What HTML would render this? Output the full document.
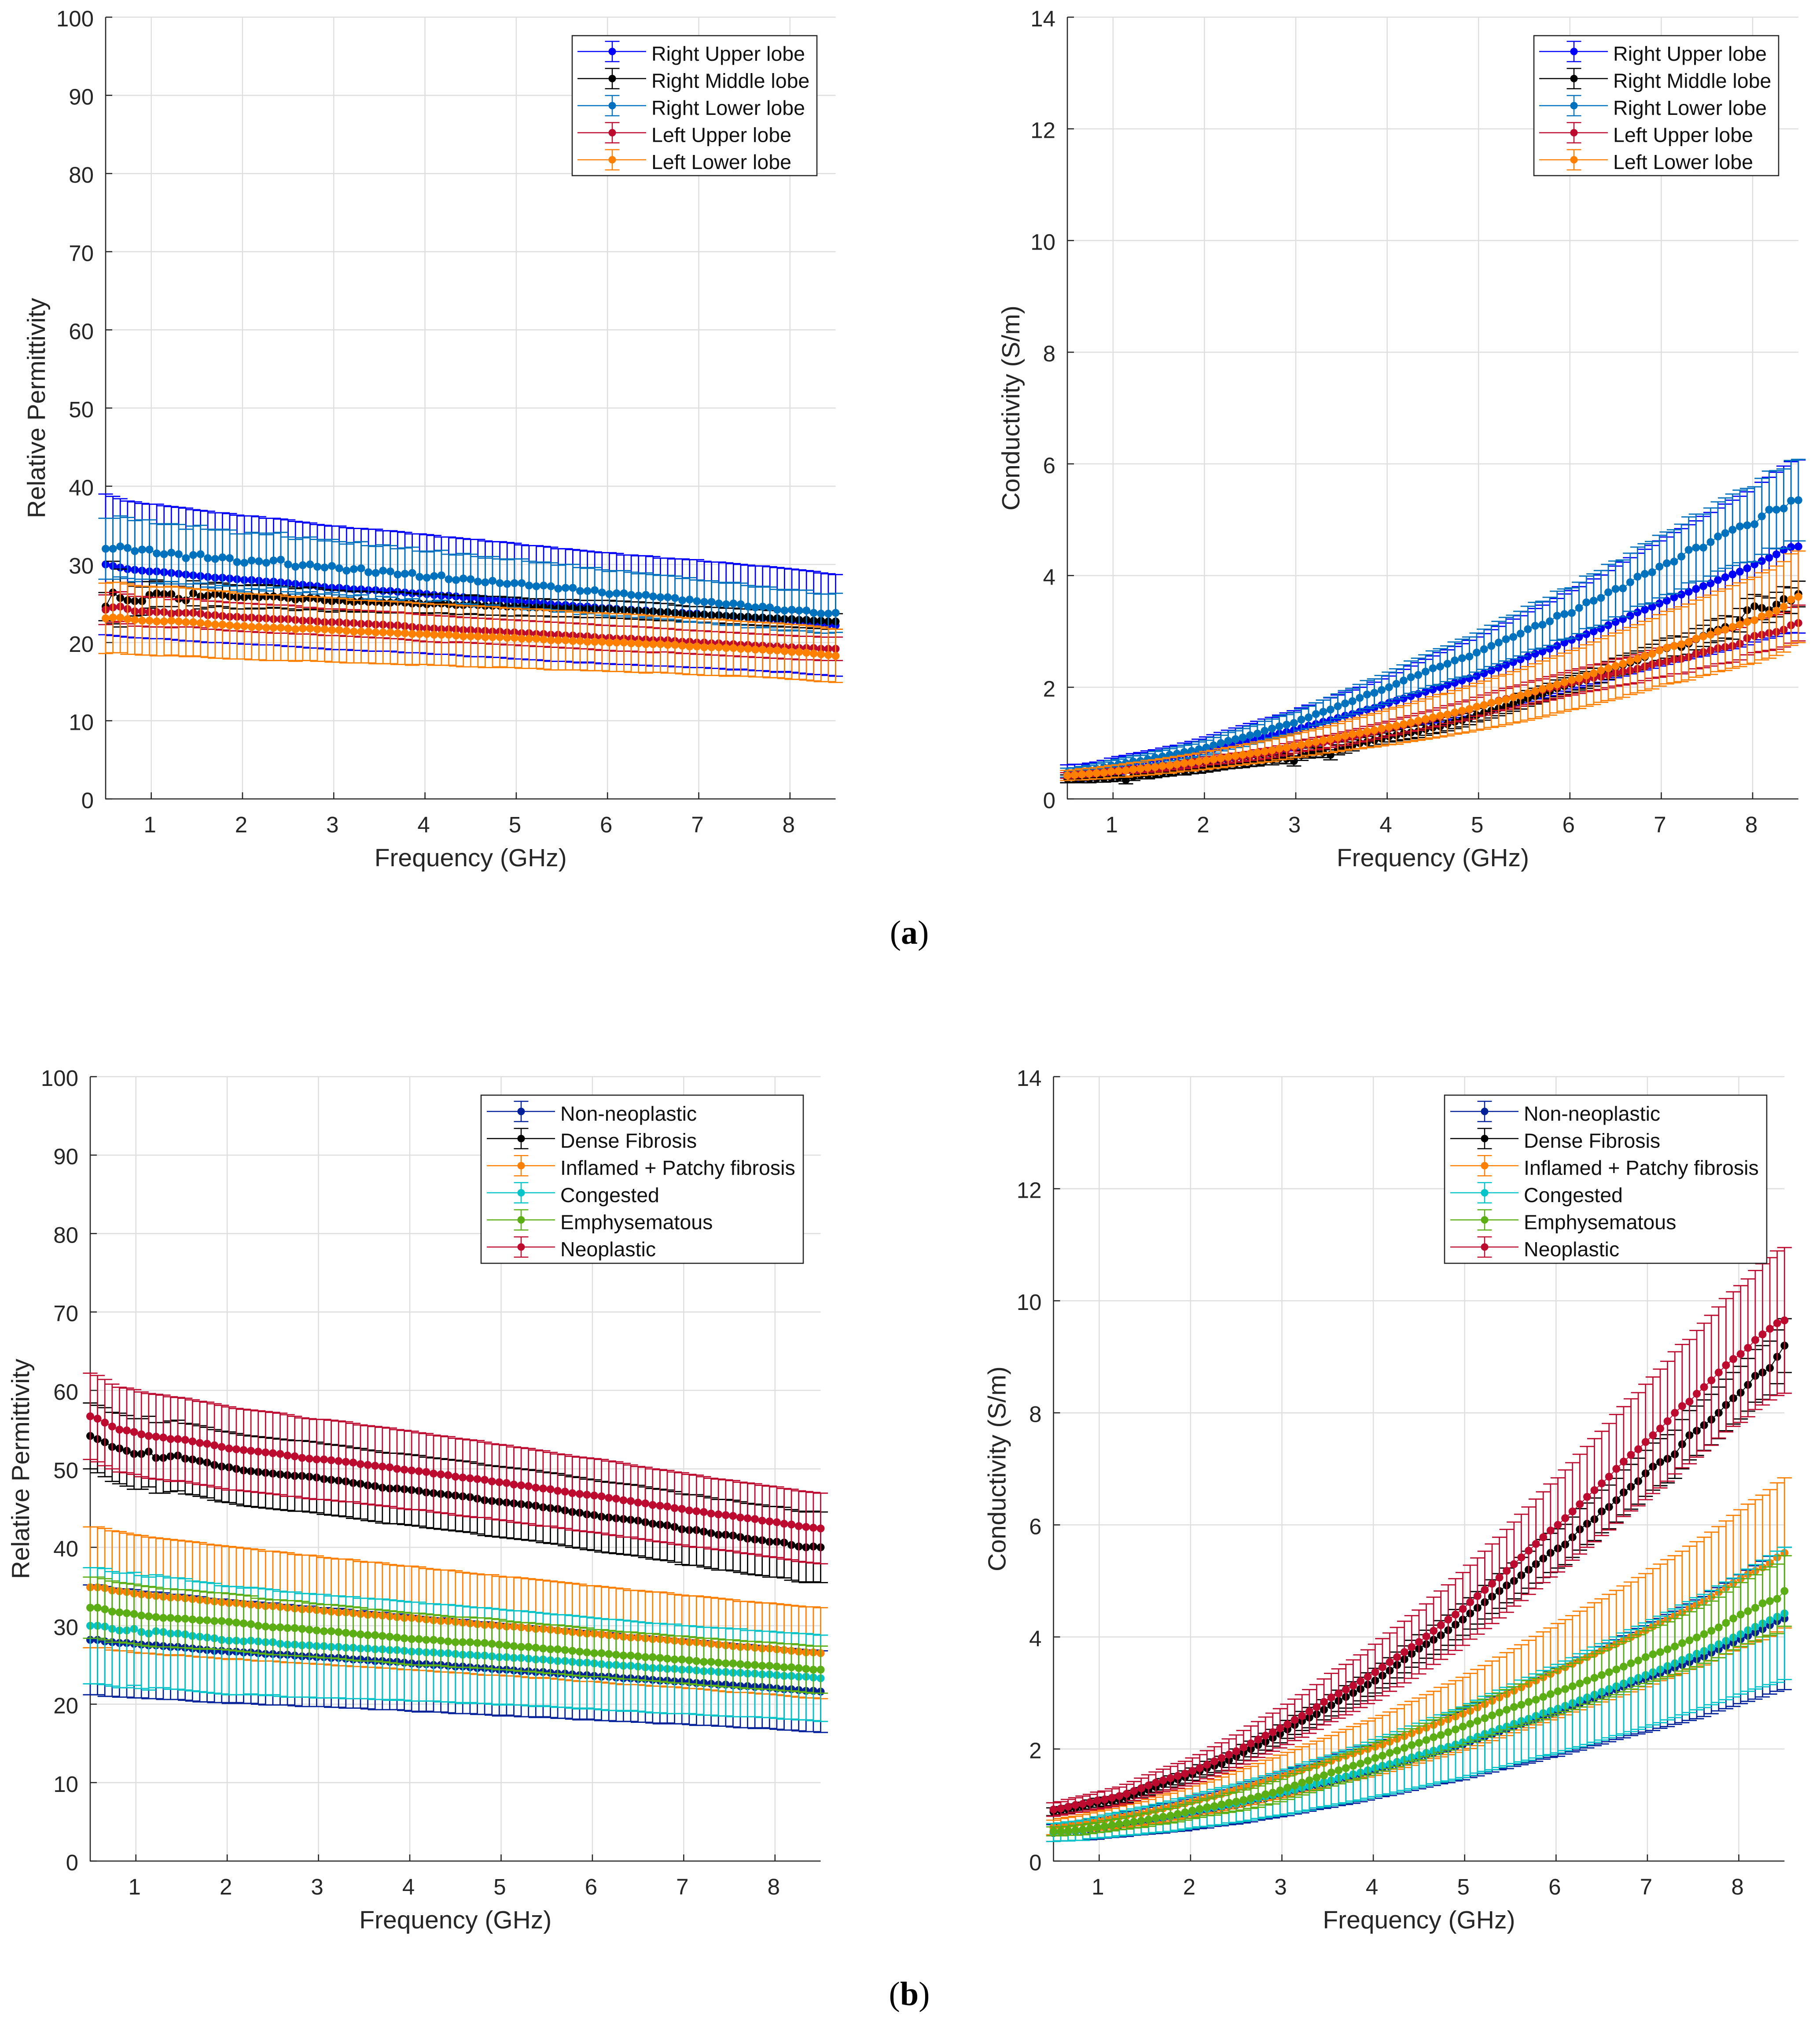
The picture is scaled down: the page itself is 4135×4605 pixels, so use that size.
<!DOCTYPE html>
<html lang="en">
<head>
<meta charset="utf-8">
<title>Dielectric properties of lung tissue</title>
<style>
html,body{margin:0;padding:0;background:#fff;}
body{width:4135px;height:4605px;overflow:hidden;}
svg{display:block;font-family:"Liberation Sans",Arial,sans-serif;}
.cap{font-family:"Liberation Serif",serif;font-size:76px;fill:#000;}
</style>
</head>
<body>
<svg id="figure" width="4135" height="4605" viewBox="0 0 4135 4605">
<rect width="4135" height="4605" fill="#fff"/>
<g id="plots"></g>
<text class="cap" x="2066" y="2144" text-anchor="middle">(<tspan font-weight="bold">a</tspan>)</text>
<text class="cap" x="2066" y="4555" text-anchor="middle">(<tspan font-weight="bold">b</tspan>)</text>
</svg>
<script>
const frequencies=[0.50,0.58,0.66,0.74,0.82,0.90,0.98,1.06,1.14,1.22,1.30,1.38,1.46,1.54,1.62,1.70,1.78,1.86,1.94,2.02,2.10,2.18,2.26,2.34,2.42,2.50,2.58,2.66,2.74,2.82,2.90,2.98,3.06,3.14,3.22,3.30,3.38,3.46,3.54,3.62,3.70,3.78,3.86,3.94,4.02,4.10,4.18,4.26,4.34,4.42,4.50,4.58,4.66,4.74,4.82,4.90,4.98,5.06,5.14,5.22,5.30,5.38,5.46,5.54,5.62,5.70,5.78,5.86,5.94,6.02,6.10,6.18,6.26,6.34,6.42,6.50,6.58,6.66,6.74,6.82,6.90,6.98,7.06,7.14,7.22,7.30,7.38,7.46,7.54,7.62,7.70,7.78,7.86,7.94,8.02,8.10,8.18,8.26,8.34,8.42,8.50];
const xTickLabels=[1,2,3,4,5,6,7,8];
const permittivityTicks=[0,10,20,30,40,50,60,70,80,90,100];
const conductivityTicks=[0,2,4,6,8,10,12,14];
const lobeLabels=["Right Upper lobe","Right Middle lobe","Right Lower lobe","Left Upper lobe","Left Lower lobe"];
const tissueLabels=["Non-neoplastic","Dense Fibrosis","Inflamed + Patchy fibrosis","Congested","Emphysematous","Neoplastic"];

/* (a) permittivity, lobes */
const rulPermMean=[30.0,29.8,29.6,29.4,29.3,29.2,29.1,29.1,29.0,28.9,
28.8,28.7,28.6,28.5,28.4,28.3,28.3,28.2,28.1,28.0,
28.0,27.9,27.8,27.8,27.7,27.6,27.5,27.4,27.3,27.2,
27.1,27.0,27.0,26.9,26.8,26.8,26.7,26.7,26.6,26.6,
26.5,26.4,26.3,26.3,26.2,26.1,26.0,26.0,25.9,25.8,
25.7,25.7,25.6,25.5,25.5,25.4,25.3,25.2,25.1,25.1,
25.0,24.9,24.8,24.8,24.7,24.6,24.6,24.5,24.4,24.4,
24.3,24.2,24.2,24.1,24.1,24.0,23.9,23.9,23.8,23.8,
23.7,23.7,23.6,23.5,23.5,23.4,23.3,23.3,23.2,23.1,
23.1,23.0,22.9,22.9,22.8,22.7,22.6,22.5,22.4,22.3,22.2];
const rulPermErr=[9.0,8.9,8.8,8.7,8.7,8.6,8.6,8.6,8.5,8.5,
8.5,8.5,8.4,8.4,8.4,8.3,8.3,8.3,8.2,8.2,
8.2,8.2,8.1,8.1,8.1,8.1,8.0,8.0,8.0,7.9,
7.9,7.9,7.9,7.8,7.8,7.8,7.8,7.8,7.7,7.7,
7.7,7.7,7.6,7.6,7.6,7.6,7.5,7.5,7.5,7.5,
7.5,7.5,7.4,7.4,7.4,7.4,7.4,7.3,7.3,7.3,
7.3,7.3,7.2,7.2,7.2,7.2,7.1,7.1,7.1,7.1,
7.1,7.0,7.0,7.0,7.0,7.0,6.9,6.9,6.9,6.9,
6.9,6.9,6.8,6.8,6.8,6.8,6.8,6.7,6.7,6.7,
6.7,6.7,6.7,6.6,6.6,6.6,6.6,6.6,6.5,6.5,6.5];
const rmlPermMean=[24.6,26.4,25.7,25.4,25.3,25.3,26.1,26.3,26.2,26.2,
25.6,25.4,26.3,25.9,26.0,26.2,26.1,25.9,25.8,25.8,
25.9,25.8,25.9,25.9,25.8,25.7,25.5,25.6,25.7,25.6,
25.4,25.3,25.4,25.3,25.2,25.3,25.2,25.2,25.1,25.1,
25.2,25.1,25.0,25.0,24.9,25.0,25.0,24.9,24.8,24.8,
24.9,24.8,24.7,24.7,24.7,24.6,24.6,24.6,24.5,24.5,
24.5,24.4,24.4,24.4,24.4,24.3,24.3,24.3,24.3,24.3,
24.2,24.2,24.1,24.1,24.0,24.0,23.9,23.9,23.8,23.7,
23.6,23.6,23.6,23.5,23.5,23.4,23.4,23.3,23.3,23.2,
23.2,23.1,23.1,23.0,23.0,22.9,22.9,22.8,22.8,22.7,22.7];
const rmlPermErr=[1.8,4.0,3.7,2.3,1.9,1.8,1.7,1.7,1.6,1.6,
1.6,1.6,1.6,1.6,1.5,1.5,1.5,1.5,1.5,1.5,
1.5,1.5,1.5,1.4,1.4,1.4,1.4,1.4,1.4,1.4,
1.4,1.4,1.3,1.3,1.3,1.3,1.3,1.3,1.3,1.3,
1.3,1.3,1.3,1.2,1.2,1.2,1.2,1.2,1.2,1.2,
1.2,1.2,1.2,1.2,1.2,1.2,1.2,1.1,1.1,1.1,
1.1,1.1,1.1,1.1,1.1,1.1,1.1,1.1,1.1,1.1,
1.1,1.1,1.1,1.1,1.1,1.1,1.1,1.1,1.0,1.0,
1.0,1.0,1.0,1.0,1.0,1.0,1.0,1.0,1.0,1.0,
1.0,1.0,1.0,1.0,1.0,1.0,1.0,1.0,1.0,1.0,1.0];
const rllPermMean=[32.0,32.0,32.3,32.1,31.7,31.9,31.9,31.4,31.3,31.5,
31.3,30.8,31.2,31.3,30.8,30.7,30.9,30.8,30.3,30.2,
30.5,30.4,30.2,30.5,30.6,30.0,29.7,29.9,30.0,29.7,
29.6,29.8,29.5,29.2,29.4,29.5,29.0,28.9,29.2,29.1,
28.7,28.8,28.9,28.4,28.3,28.5,28.6,28.1,28.0,28.2,
28.1,27.8,27.7,27.9,27.6,27.5,27.6,27.6,27.3,27.2,
27.3,27.2,26.9,27.0,27.0,26.6,26.6,26.7,26.4,26.2,
26.3,26.3,26.1,26.0,26.1,25.9,25.8,25.8,25.7,25.4,
25.5,25.3,25.2,25.2,25.0,24.9,25.0,24.9,24.6,24.5,
24.6,24.5,24.2,24.1,24.2,24.1,24.1,23.8,23.7,23.7,23.8];
const rllPermErr=[3.9,3.9,3.9,3.9,3.9,3.8,3.8,3.8,3.8,3.7,
3.8,3.7,3.7,3.7,3.7,3.7,3.6,3.6,3.6,3.7,
3.6,3.6,3.6,3.5,3.5,3.5,3.5,3.5,3.5,3.5,
3.4,3.4,3.4,3.4,3.4,3.4,3.4,3.4,3.3,3.3,
3.3,3.3,3.3,3.3,3.3,3.2,3.2,3.2,3.2,3.2,
3.2,3.2,3.1,3.1,3.1,3.1,3.1,3.1,3.1,3.0,
3.0,3.0,3.0,3.0,3.0,3.0,2.9,2.9,2.9,2.9,
2.9,2.9,2.9,2.8,2.8,2.8,2.8,2.8,2.8,2.8,
2.8,2.7,2.7,2.7,2.7,2.7,2.7,2.7,2.7,2.6,
2.6,2.6,2.6,2.6,2.6,2.6,2.6,2.5,2.5,2.5,2.5];
const lulPermMean=[24.2,24.5,24.6,24.3,24.0,24.0,23.9,23.9,23.9,23.7,
23.8,23.8,23.8,23.7,23.5,23.5,23.4,23.3,23.3,23.2,
23.2,23.1,23.1,23.0,23.0,23.0,22.9,22.8,22.8,22.7,
22.6,22.6,22.6,22.5,22.5,22.4,22.4,22.3,22.3,22.2,
22.2,22.1,22.0,21.9,21.8,21.8,21.7,21.7,21.7,21.6,
21.6,21.5,21.5,21.4,21.4,21.3,21.3,21.2,21.2,21.1,
21.1,21.0,21.0,20.9,20.9,20.8,20.8,20.7,20.6,20.6,
20.5,20.5,20.5,20.4,20.4,20.3,20.3,20.3,20.2,20.1,
20.1,20.0,20.0,19.9,19.9,19.8,19.8,19.7,19.7,19.6,
19.6,19.5,19.5,19.4,19.4,19.3,19.3,19.3,19.2,19.2,19.2];
const lulPermErr=[1.9,1.9,1.9,1.9,1.9,1.9,1.9,1.9,1.9,1.8,
1.8,1.8,1.8,1.8,1.8,1.8,1.8,1.8,1.8,1.8,
1.8,1.8,1.8,1.8,1.8,1.8,1.8,1.7,1.7,1.7,
1.7,1.7,1.7,1.7,1.7,1.7,1.7,1.7,1.7,1.7,
1.7,1.7,1.7,1.7,1.7,1.7,1.7,1.7,1.6,1.6,
1.6,1.6,1.6,1.6,1.6,1.6,1.6,1.6,1.6,1.6,
1.6,1.6,1.6,1.6,1.6,1.6,1.6,1.6,1.6,1.6,
1.6,1.6,1.6,1.6,1.6,1.6,1.5,1.5,1.5,1.5,
1.5,1.5,1.5,1.5,1.5,1.5,1.5,1.5,1.5,1.5,
1.5,1.5,1.5,1.5,1.5,1.5,1.5,1.5,1.5,1.5,1.5];
const lllPermMean=[23.1,23.2,23.2,23.0,22.9,22.8,22.8,22.7,22.7,22.8,
22.7,22.6,22.6,22.5,22.4,22.3,22.3,22.2,22.1,22.1,
22.0,22.0,21.9,21.9,21.9,21.8,21.7,21.8,21.8,21.7,
21.7,21.6,21.6,21.5,21.4,21.4,21.4,21.3,21.3,21.3,
21.2,21.2,21.1,21.1,21.1,21.0,21.0,21.0,20.9,20.8,
20.8,20.8,20.7,20.7,20.7,20.6,20.6,20.5,20.5,20.5,
20.4,20.3,20.3,20.3,20.2,20.2,20.1,20.1,20.1,20.0,
20.0,20.0,19.9,19.9,19.8,19.8,19.8,19.7,19.7,19.6,
19.5,19.5,19.4,19.4,19.4,19.3,19.3,19.2,19.2,19.1,
19.1,19.0,19.0,18.9,18.8,18.8,18.7,18.6,18.5,18.4,18.3];
const lllPermErr=[4.5,4.5,4.5,4.5,4.4,4.4,4.4,4.4,4.4,4.4,
4.4,4.4,4.3,4.3,4.3,4.3,4.3,4.3,4.2,4.2,
4.2,4.2,4.2,4.2,4.2,4.1,4.1,4.1,4.1,4.1,
4.1,4.1,4.1,4.1,4.0,4.0,4.0,4.0,4.0,4.0,
4.0,4.0,4.0,3.9,3.9,3.9,3.9,3.9,3.9,3.9,
3.9,3.9,3.9,3.9,3.8,3.8,3.8,3.8,3.8,3.8,
3.8,3.8,3.8,3.8,3.7,3.7,3.7,3.7,3.7,3.7,
3.7,3.7,3.7,3.7,3.7,3.6,3.6,3.6,3.6,3.6,
3.6,3.6,3.6,3.6,3.6,3.6,3.5,3.5,3.5,3.5,
3.5,3.5,3.5,3.5,3.5,3.5,3.5,3.5,3.5,3.4,3.4];

/* (a) conductivity, lobes */
const rulCondMean=[.45,.46,.47,.49,.51,.54,.58,.60,.62,.64,
.66,.68,.70,.72,.74,.76,.79,.81,.84,.87,
.90,.93,.96,.99,1.02,1.05,1.08,1.11,1.14,1.17,
1.20,1.23,1.27,1.31,1.34,1.38,1.41,1.45,1.49,1.52,
1.56,1.60,1.63,1.68,1.72,1.76,1.80,1.84,1.88,1.92,
1.96,2.00,2.04,2.08,2.12,2.16,2.20,2.25,2.30,2.35,
2.40,2.45,2.50,2.55,2.60,2.64,2.69,2.74,2.80,2.85,
2.90,2.95,3.00,3.05,3.11,3.17,3.22,3.28,3.34,3.39,
3.44,3.50,3.55,3.61,3.66,3.71,3.76,3.81,3.86,3.92,
3.97,4.02,4.07,4.13,4.20,4.26,4.32,4.38,4.46,4.51,4.52];
const rulCondErr=[.16,.16,.15,.15,.15,.15,.15,.16,.16,.17,
.17,.18,.18,.19,.20,.20,.21,.22,.23,.24,
.25,.26,.27,.28,.29,.30,.31,.32,.32,.33,
.34,.35,.36,.37,.38,.39,.40,.41,.42,.43,
.44,.45,.46,.47,.48,.50,.52,.54,.56,.58,
.60,.62,.63,.65,.66,.68,.70,.71,.73,.74,
.75,.77,.78,.80,.81,.83,.84,.85,.87,.88,
.90,.92,.94,.96,.98,1.00,1.02,1.04,1.06,1.08,
1.10,1.12,1.14,1.16,1.18,1.20,1.22,1.25,1.27,1.29,
1.31,1.33,1.35,1.37,1.39,1.41,1.44,1.47,1.50,1.53,1.55];
const rmlCondMean=[.36,.37,.36,.36,.37,.37,.38,.39,.34,.40,
.43,.43,.45,.47,.48,.50,.50,.53,.54,.56,
.58,.60,.62,.63,.64,.66,.67,.69,.70,.73,
.72,.68,.78,.82,.84,.83,.79,.88,.92,.96,
1.00,1.02,1.05,1.08,1.12,1.14,1.17,1.19,1.21,1.25,
1.28,1.30,1.34,1.38,1.41,1.45,1.50,1.54,1.58,1.62,
1.66,1.70,1.75,1.80,1.84,1.88,1.93,1.98,2.02,2.06,
2.10,2.13,2.18,2.24,2.30,2.36,2.40,2.44,2.48,2.54,
2.60,2.66,2.70,2.74,2.72,2.78,2.86,2.92,3.00,3.03,
3.08,3.06,3.20,3.38,3.45,3.42,3.38,3.48,3.58,3.55,3.67];
const rmlCondErr=[.07,.07,.07,.07,.07,.07,.07,.07,.07,.07,
.07,.07,.07,.07,.07,.07,.07,.08,.08,.08,
.08,.08,.08,.08,.08,.08,.08,.08,.09,.09,
.09,.09,.09,.09,.09,.09,.09,.09,.10,.10,
.10,.10,.10,.10,.10,.10,.11,.11,.11,.11,
.11,.11,.12,.12,.12,.12,.12,.13,.13,.13,
.13,.13,.14,.14,.14,.14,.14,.15,.15,.15,
.15,.15,.16,.16,.16,.16,.17,.17,.17,.17,
.17,.18,.18,.18,.18,.19,.19,.19,.20,.20,
.20,.20,.21,.21,.21,.21,.22,.22,.22,.23,.23];
const rllCondMean=[.47,.48,.50,.52,.54,.57,.60,.62,.64,.67,
.68,.71,.74,.76,.79,.81,.84,.86,.89,.92,
.96,1.00,1.04,1.07,1.10,1.14,1.17,1.22,1.26,1.30,
1.33,1.36,1.42,1.46,1.52,1.56,1.60,1.66,1.71,1.75,
1.81,1.87,1.90,1.95,2.00,2.06,2.12,2.18,2.22,2.28,
2.34,2.37,2.42,2.48,2.52,2.55,2.62,2.68,2.74,2.80,
2.86,2.90,2.96,3.04,3.10,3.12,3.18,3.28,3.31,3.33,
3.42,3.52,3.55,3.60,3.70,3.76,3.77,3.88,3.98,4.03,
4.06,4.16,4.22,4.25,4.34,4.46,4.50,4.50,4.60,4.70,
4.76,4.82,4.88,4.90,4.92,5.06,5.18,5.18,5.20,5.34,5.35];
const rllCondErr=[.08,.08,.08,.08,.09,.09,.09,.09,.10,.10,
.10,.10,.11,.11,.11,.12,.12,.12,.13,.13,
.14,.14,.15,.15,.16,.16,.16,.17,.17,.18,
.18,.19,.19,.20,.20,.21,.22,.22,.23,.23,
.24,.25,.25,.26,.27,.27,.28,.29,.30,.30,
.31,.32,.32,.33,.34,.35,.35,.36,.37,.38,
.39,.39,.40,.41,.42,.42,.43,.44,.45,.45,
.46,.47,.48,.49,.50,.50,.51,.52,.53,.54,
.55,.56,.56,.57,.58,.59,.60,.60,.61,.62,
.63,.64,.65,.66,.67,.68,.69,.70,.71,.72,.73];
const lulCondMean=[.42,.43,.44,.45,.46,.47,.49,.50,.51,.52,
.53,.54,.55,.56,.58,.59,.61,.63,.65,.68,
.69,.71,.72,.74,.75,.77,.79,.81,.83,.86,
.89,.92,.95,.97,.99,1.01,1.03,1.06,1.08,1.11,
1.14,1.17,1.20,1.23,1.26,1.29,1.32,1.35,1.38,1.41,
1.44,1.47,1.51,1.54,1.57,1.60,1.65,1.68,1.72,1.76,
1.79,1.82,1.85,1.89,1.92,1.95,1.98,2.01,2.05,2.08,
2.11,2.14,2.17,2.19,2.22,2.26,2.28,2.30,2.33,2.37,
2.41,2.44,2.46,2.50,2.51,2.54,2.60,2.63,2.66,2.70,
2.72,2.74,2.78,2.88,2.92,2.94,2.97,2.99,3.03,3.11,3.15];
const lulCondErr=[.05,.05,.05,.05,.05,.05,.05,.05,.05,.06,
.06,.06,.06,.06,.06,.06,.07,.07,.07,.07,
.07,.08,.08,.08,.08,.08,.09,.09,.09,.09,
.10,.10,.10,.10,.11,.11,.11,.11,.12,.12,
.12,.13,.13,.13,.13,.14,.14,.14,.15,.15,
.15,.16,.16,.16,.17,.17,.17,.18,.18,.18,
.19,.19,.19,.20,.20,.20,.21,.21,.21,.22,
.22,.22,.23,.23,.23,.24,.24,.24,.25,.25,
.25,.26,.26,.26,.27,.27,.27,.28,.28,.28,
.29,.29,.29,.30,.30,.30,.31,.31,.31,.32,.32];
const lllCondMean=[.42,.43,.44,.45,.46,.47,.49,.50,.51,.53,
.54,.56,.57,.59,.60,.62,.64,.65,.67,.69,
.71,.73,.75,.77,.79,.81,.83,.85,.87,.90,
.92,.95,.97,1.00,1.02,1.05,1.07,1.10,1.13,1.16,
1.18,1.21,1.23,1.26,1.29,1.31,1.34,1.37,1.40,1.43,
1.46,1.49,1.51,1.55,1.58,1.61,1.65,1.68,1.72,1.75,
1.78,1.82,1.85,1.89,1.93,1.97,2.01,2.05,2.09,2.13,
2.16,2.21,2.25,2.30,2.34,2.38,2.42,2.47,2.51,2.56,
2.60,2.66,2.71,2.74,2.77,2.81,2.87,2.91,2.94,3.00,
3.03,3.08,3.12,3.17,3.20,3.27,3.31,3.37,3.44,3.57,3.62];
const lllCondErr=[.09,.09,.10,.10,.10,.11,.11,.11,.12,.12,
.12,.13,.13,.13,.14,.14,.14,.15,.15,.16,
.16,.17,.17,.17,.18,.18,.19,.19,.20,.20,
.21,.21,.22,.22,.23,.23,.24,.25,.26,.27,
.28,.29,.30,.31,.32,.33,.33,.34,.35,.36,
.37,.38,.38,.39,.40,.41,.42,.43,.44,.45,
.45,.46,.47,.48,.49,.50,.51,.51,.52,.53,
.54,.55,.56,.57,.58,.59,.60,.60,.61,.62,
.63,.64,.65,.66,.67,.68,.69,.70,.71,.72,
.73,.74,.75,.76,.77,.78,.79,.80,.81,.82,.82];

/* (b) permittivity, tissue */
const nonPermMean=[28.2,28.2,28.0,27.9,27.8,27.8,27.7,27.6,27.5,27.5,
27.4,27.3,27.3,27.2,27.1,27.0,26.9,26.8,26.8,26.7,
26.7,26.6,26.6,26.5,26.4,26.4,26.3,26.3,26.2,26.1,
26.1,26.0,26.0,25.9,25.9,25.8,25.7,25.7,25.6,25.5,
25.5,25.4,25.4,25.3,25.2,25.1,25.1,25.0,25.0,24.9,
24.8,24.8,24.7,24.6,24.6,24.5,24.4,24.4,24.3,24.2,
24.2,24.1,24.1,24.0,23.9,23.9,23.8,23.7,23.7,23.6,
23.5,23.5,23.4,23.3,23.3,23.2,23.2,23.1,23.0,23.0,
22.9,22.9,22.8,22.7,22.7,22.6,22.5,22.5,22.4,22.3,
22.3,22.2,22.2,22.1,22.0,21.9,21.9,21.8,21.7,21.7,21.6];
const nonPermErr=[7.0,7.0,7.0,6.9,6.9,6.9,6.9,6.8,6.8,6.8,
6.8,6.7,6.7,6.7,6.7,6.7,6.6,6.6,6.6,6.6,
6.5,6.5,6.5,6.5,6.5,6.5,6.4,6.4,6.4,6.4,
6.4,6.3,6.3,6.3,6.3,6.3,6.2,6.2,6.2,6.2,
6.2,6.1,6.1,6.1,6.1,6.1,6.0,6.0,6.0,6.0,
6.0,6.0,5.9,5.9,5.9,5.9,5.9,5.8,5.8,5.8,
5.8,5.8,5.7,5.7,5.7,5.7,5.7,5.7,5.6,5.6,
5.6,5.6,5.6,5.5,5.5,5.5,5.5,5.5,5.5,5.4,
5.4,5.4,5.4,5.4,5.4,5.3,5.3,5.3,5.3,5.3,
5.3,5.3,5.2,5.2,5.2,5.2,5.2,5.2,5.2,5.2,5.2];
const densePermMean=[54.2,53.8,53.4,52.8,52.6,52.3,51.9,51.9,52.2,51.4,
51.4,51.6,51.7,51.3,51.2,51.0,50.8,50.5,50.3,50.2,
50.0,49.8,49.7,49.6,49.5,49.4,49.3,49.2,49.1,49.1,
49.0,48.9,48.7,48.6,48.5,48.4,48.2,48.1,47.9,47.8,
47.6,47.5,47.5,47.4,47.3,47.2,47.0,46.9,46.8,46.7,
46.6,46.5,46.4,46.2,46.0,45.9,45.8,45.7,45.6,45.5,
45.4,45.3,45.1,45.0,44.9,44.7,44.5,44.4,44.2,44.1,
43.9,43.8,43.7,43.6,43.5,43.4,43.2,43.0,42.9,42.8,
42.6,42.3,42.2,42.2,42.0,41.8,41.6,41.6,41.5,41.3,
41.1,41.0,40.9,40.7,40.7,40.6,40.3,40.1,40.0,40.1,40.0];
const densePermErr=[4.2,4.3,4.4,4.4,4.5,4.5,4.5,4.5,4.5,4.5,
4.5,4.5,4.5,4.5,4.5,4.5,4.5,4.5,4.5,4.5,
4.5,4.5,4.5,4.5,4.5,4.5,4.5,4.5,4.5,4.5,
4.5,4.5,4.5,4.5,4.5,4.5,4.5,4.5,4.5,4.5,
4.5,4.5,4.5,4.5,4.5,4.5,4.5,4.5,4.5,4.5,
4.5,4.5,4.5,4.5,4.5,4.5,4.5,4.5,4.5,4.5,
4.5,4.5,4.5,4.5,4.5,4.5,4.5,4.5,4.5,4.5,
4.5,4.5,4.5,4.5,4.5,4.5,4.5,4.5,4.5,4.5,
4.5,4.5,4.5,4.5,4.5,4.5,4.5,4.5,4.5,4.5,
4.5,4.5,4.5,4.5,4.5,4.5,4.5,4.5,4.5,4.5,4.5];
const inflPermMean=[34.9,34.9,34.8,34.5,34.4,34.3,34.1,34.0,33.9,33.8,
33.7,33.6,33.6,33.5,33.4,33.3,33.2,33.1,33.0,32.9,
32.9,32.8,32.7,32.6,32.5,32.5,32.4,32.3,32.2,32.1,
32.1,32.0,31.9,31.8,31.7,31.7,31.6,31.5,31.4,31.4,
31.3,31.2,31.1,31.0,31.0,30.9,30.8,30.7,30.6,30.6,
30.5,30.4,30.3,30.2,30.1,30.1,30.0,29.9,29.9,29.8,
29.7,29.6,29.6,29.5,29.4,29.3,29.2,29.1,29.0,29.0,
28.9,28.8,28.7,28.6,28.5,28.5,28.4,28.3,28.3,28.2,
28.1,28.0,27.9,27.9,27.8,27.7,27.6,27.5,27.4,27.3,
27.3,27.2,27.1,27.1,27.0,26.9,26.8,26.7,26.6,26.6,26.5];
const inflPermErr=[7.7,7.7,7.6,7.6,7.6,7.5,7.5,7.5,7.4,7.4,
7.4,7.4,7.3,7.3,7.3,7.3,7.2,7.2,7.2,7.2,
7.1,7.1,7.1,7.1,7.0,7.0,7.0,7.0,6.9,6.9,
6.9,6.9,6.8,6.8,6.8,6.8,6.8,6.7,6.7,6.7,
6.7,6.6,6.6,6.6,6.6,6.6,6.5,6.5,6.5,6.5,
6.5,6.4,6.4,6.4,6.4,6.4,6.3,6.3,6.3,6.3,
6.3,6.3,6.2,6.2,6.2,6.2,6.2,6.2,6.1,6.1,
6.1,6.1,6.1,6.1,6.0,6.0,6.0,6.0,6.0,6.0,
5.9,5.9,5.9,5.9,5.9,5.9,5.9,5.9,5.9,5.8,
5.8,5.8,5.8,5.8,5.8,5.8,5.8,5.8,5.8,5.8,5.8];
const congPermMean=[30.0,30.0,29.9,29.6,29.4,29.4,29.6,29.2,29.0,29.3,
29.2,29.0,29.0,28.9,28.7,28.6,28.5,28.4,28.2,28.1,
28.1,28.0,28.1,28.0,27.9,27.9,27.7,27.6,27.6,27.5,
27.5,27.4,27.4,27.3,27.3,27.2,27.2,27.1,27.1,27.0,
27.0,26.9,26.9,26.8,26.7,26.7,26.6,26.6,26.5,26.5,
26.4,26.3,26.3,26.2,26.2,26.1,26.0,26.0,25.9,25.9,
25.8,25.7,25.7,25.6,25.5,25.5,25.4,25.3,25.3,25.2,
25.1,25.0,25.0,24.9,24.9,24.8,24.7,24.6,24.6,24.5,
24.5,24.4,24.4,24.3,24.2,24.2,24.1,24.1,24.0,24.0,
23.9,23.9,23.8,23.8,23.7,23.6,23.6,23.5,23.5,23.4,23.3];
const congPermErr=[7.4,7.4,7.4,7.3,7.3,7.3,7.2,7.2,7.2,7.2,
7.1,7.1,7.1,7.1,7.0,7.0,7.0,7.0,6.9,6.9,
6.9,6.8,6.8,6.8,6.8,6.7,6.7,6.7,6.7,6.6,
6.6,6.6,6.6,6.5,6.5,6.5,6.5,6.4,6.4,6.4,
6.4,6.4,6.3,6.3,6.3,6.3,6.2,6.2,6.2,6.2,
6.2,6.2,6.1,6.1,6.1,6.1,6.1,6.0,6.0,6.0,
6.0,6.0,5.9,5.9,5.9,5.9,5.9,5.9,5.8,5.8,
5.8,5.8,5.8,5.8,5.7,5.7,5.7,5.7,5.7,5.7,
5.7,5.6,5.6,5.6,5.6,5.6,5.6,5.6,5.6,5.6,
5.5,5.5,5.5,5.5,5.5,5.5,5.5,5.5,5.5,5.5,5.5];
const emphPermMean=[32.3,32.3,32.1,31.8,31.7,31.6,31.5,31.3,31.2,31.1,
31.0,31.0,30.9,30.9,30.8,30.7,30.7,30.6,30.6,30.5,
30.4,30.3,30.2,30.0,29.9,29.8,29.8,29.7,29.7,29.6,
29.5,29.4,29.3,29.3,29.2,29.1,29.0,28.9,28.8,28.8,
28.7,28.6,28.5,28.4,28.3,28.3,28.2,28.2,28.1,28.0,
27.9,27.9,27.9,27.8,27.8,27.7,27.6,27.5,27.4,27.3,
27.3,27.2,27.1,27.0,27.0,26.9,26.8,26.7,26.6,26.5,
26.5,26.4,26.3,26.2,26.2,26.1,26.0,26.0,25.9,25.8,
25.7,25.7,25.6,25.5,25.4,25.4,25.3,25.2,25.2,25.1,
25.0,25.0,24.9,24.9,24.8,24.7,24.7,24.6,24.5,24.4,24.4];
const emphPermErr=[3.9,3.9,3.9,3.9,3.8,3.8,3.8,3.8,3.8,3.8,
3.7,3.7,3.7,3.7,3.7,3.7,3.6,3.6,3.6,3.6,
3.6,3.6,3.6,3.5,3.5,3.5,3.5,3.5,3.5,3.5,
3.4,3.4,3.4,3.4,3.4,3.4,3.4,3.4,3.3,3.3,
3.3,3.3,3.3,3.3,3.3,3.3,3.3,3.2,3.2,3.2,
3.2,3.2,3.2,3.2,3.2,3.2,3.2,3.1,3.1,3.1,
3.1,3.1,3.1,3.1,3.1,3.1,3.1,3.1,3.1,3.0,
3.0,3.0,3.0,3.0,3.0,3.0,3.0,3.0,3.0,3.0,
3.0,3.0,3.0,3.0,3.0,3.0,3.0,3.0,3.0,3.0,
3.0,3.0,3.0,3.0,3.0,3.0,3.0,3.0,3.0,3.0,3.0];
const neoPermMean=[56.7,56.4,55.9,55.4,55.0,54.9,54.7,54.4,54.2,54.1,
54.0,53.8,53.8,53.7,53.5,53.3,53.2,53.0,52.8,52.6,
52.5,52.4,52.3,52.2,52.1,52.0,51.9,51.7,51.6,51.4,
51.3,51.2,51.2,51.1,51.0,50.9,50.8,50.6,50.5,50.4,
50.3,50.2,50.0,49.9,49.8,49.7,49.6,49.4,49.3,49.2,
49.0,48.9,48.8,48.7,48.6,48.4,48.3,48.2,48.0,47.9,
47.8,47.6,47.5,47.4,47.2,47.1,46.9,46.8,46.7,46.6,
46.5,46.3,46.2,46.0,45.9,45.7,45.6,45.4,45.3,45.2,
45.0,44.9,44.7,44.6,44.5,44.3,44.2,44.1,44.0,43.8,
43.7,43.6,43.4,43.3,43.2,43.0,42.9,42.7,42.6,42.5,42.4];
const neoPermErr=[5.5,5.5,5.5,5.4,5.4,5.4,5.4,5.4,5.4,5.4,
5.4,5.4,5.3,5.3,5.3,5.3,5.3,5.3,5.3,5.3,
5.2,5.2,5.2,5.2,5.2,5.2,5.2,5.2,5.1,5.1,
5.1,5.1,5.1,5.1,5.1,5.1,5.0,5.0,5.0,5.0,
5.0,5.0,5.0,5.0,5.0,4.9,4.9,4.9,4.9,4.9,
4.9,4.9,4.9,4.9,4.8,4.8,4.8,4.8,4.8,4.8,
4.8,4.8,4.8,4.7,4.7,4.7,4.7,4.7,4.7,4.7,
4.7,4.7,4.7,4.7,4.6,4.6,4.6,4.6,4.6,4.6,
4.6,4.6,4.6,4.6,4.5,4.5,4.5,4.5,4.5,4.5,
4.5,4.5,4.5,4.5,4.5,4.5,4.5,4.5,4.5,4.5,4.5];

/* (b) conductivity, tissue */
const nonCondMean=[.50,.51,.52,.53,.54,.56,.58,.60,.62,.64,
.66,.68,.70,.72,.74,.76,.78,.80,.82,.85,
.88,.90,.93,.95,.98,1.00,1.03,1.06,1.09,1.12,
1.15,1.18,1.21,1.25,1.28,1.31,1.35,1.38,1.41,1.45,
1.48,1.51,1.55,1.58,1.62,1.66,1.69,1.73,1.77,1.81,
1.85,1.89,1.93,1.97,2.00,2.04,2.08,2.13,2.17,2.22,
2.26,2.31,2.35,2.40,2.44,2.49,2.53,2.58,2.62,2.66,
2.71,2.76,2.81,2.86,2.91,2.96,3.01,3.06,3.11,3.16,
3.21,3.25,3.30,3.35,3.40,3.45,3.50,3.55,3.60,3.65,
3.72,3.78,3.84,3.90,3.96,4.02,4.08,4.14,4.21,4.28,4.33];
const nonCondErr=[.15,.15,.16,.16,.17,.18,.19,.19,.20,.21,
.22,.22,.23,.24,.25,.26,.26,.27,.28,.29,
.30,.31,.31,.32,.33,.34,.35,.36,.36,.37,
.38,.39,.40,.41,.42,.42,.43,.44,.45,.46,
.47,.48,.49,.49,.50,.51,.52,.53,.54,.55,
.56,.57,.58,.59,.60,.61,.63,.64,.65,.66,
.67,.68,.70,.71,.72,.74,.75,.76,.77,.79,
.80,.81,.83,.84,.85,.87,.88,.89,.91,.92,
.94,.95,.97,.98,1.00,1.01,1.03,1.04,1.06,1.07,
1.09,1.10,1.12,1.14,1.15,1.17,1.19,1.21,1.23,1.25,1.27];
const denseCondMean=[.88,.90,.92,.95,.98,1.01,1.04,1.06,1.07,1.10,
1.13,1.17,1.22,1.27,1.32,1.37,1.42,1.46,1.50,1.55,
1.61,1.66,1.70,1.74,1.80,1.87,1.94,2.00,2.07,2.13,
2.20,2.27,2.35,2.43,2.50,2.56,2.62,2.70,2.78,2.86,
2.93,3.00,3.07,3.15,3.22,3.31,3.40,3.50,3.60,3.70,
3.79,3.87,3.95,4.03,4.12,4.22,4.31,4.42,4.52,4.62,
4.72,4.82,4.92,5.00,5.10,5.20,5.30,5.40,5.50,5.58,
5.65,5.78,5.92,6.02,6.10,6.24,6.32,6.44,6.58,6.68,
6.78,6.92,7.04,7.12,7.18,7.26,7.44,7.60,7.68,7.78,
7.88,8.00,8.14,8.26,8.36,8.50,8.66,8.72,8.80,9.00,9.20];
const denseCondErr=[.07,.07,.07,.07,.07,.08,.08,.08,.08,.08,
.08,.09,.09,.09,.09,.10,.10,.10,.11,.11,
.11,.12,.12,.13,.13,.13,.14,.14,.15,.15,
.15,.16,.16,.17,.17,.18,.18,.18,.19,.19,
.20,.20,.21,.21,.22,.22,.23,.23,.24,.24,
.25,.25,.26,.26,.27,.27,.28,.28,.29,.30,
.30,.31,.31,.32,.32,.33,.34,.34,.35,.35,
.36,.36,.37,.37,.38,.38,.39,.39,.40,.40,
.41,.41,.42,.42,.43,.43,.44,.44,.44,.45,
.45,.46,.46,.46,.47,.47,.47,.48,.48,.48,.48];
const inflCondMean=[.60,.62,.64,.66,.68,.70,.72,.74,.76,.79,
.81,.83,.85,.88,.91,.94,.97,1.00,1.03,1.07,
1.10,1.13,1.16,1.20,1.24,1.28,1.32,1.35,1.39,1.44,
1.47,1.51,1.55,1.59,1.63,1.67,1.71,1.75,1.79,1.84,
1.88,1.92,1.96,2.00,2.04,2.08,2.13,2.18,2.23,2.28,
2.33,2.38,2.43,2.48,2.53,2.58,2.63,2.68,2.74,2.80,
2.86,2.92,2.98,3.04,3.10,3.16,3.22,3.28,3.34,3.40,
3.46,3.52,3.58,3.64,3.70,3.76,3.82,3.88,3.94,4.00,
4.06,4.12,4.19,4.26,4.32,4.38,4.44,4.52,4.58,4.64,
4.72,4.80,4.88,4.96,5.04,5.12,5.18,5.24,5.32,5.42,5.50];
const inflCondErr=[.13,.14,.14,.14,.15,.16,.17,.17,.18,.19,
.20,.20,.21,.22,.23,.24,.24,.25,.26,.27,
.28,.28,.29,.30,.31,.32,.33,.34,.35,.36,
.37,.38,.39,.40,.41,.42,.43,.44,.45,.46,
.47,.48,.49,.50,.51,.52,.53,.54,.56,.57,
.58,.59,.60,.62,.63,.64,.65,.67,.68,.69,
.71,.72,.74,.75,.76,.78,.79,.81,.82,.84,
.85,.86,.88,.89,.91,.92,.94,.95,.97,.98,
1.00,1.01,1.03,1.04,1.06,1.07,1.09,1.10,1.12,1.14,
1.15,1.17,1.19,1.21,1.23,1.25,1.27,1.29,1.31,1.33,1.34];
const congCondMean=[.51,.52,.53,.54,.55,.58,.60,.62,.64,.66,
.68,.70,.72,.74,.76,.78,.80,.83,.85,.88,
.91,.93,.96,.98,1.01,1.03,1.06,1.09,1.12,1.15,
1.18,1.21,1.24,1.27,1.31,1.34,1.38,1.41,1.44,1.48,
1.51,1.55,1.58,1.62,1.66,1.70,1.73,1.77,1.81,1.85,
1.89,1.93,1.97,2.01,2.04,2.08,2.12,2.17,2.22,2.27,
2.31,2.36,2.40,2.45,2.50,2.54,2.59,2.64,2.68,2.72,
2.77,2.82,2.87,2.92,2.97,3.02,3.07,3.12,3.17,3.22,
3.27,3.32,3.37,3.42,3.48,3.53,3.59,3.64,3.70,3.75,
3.81,3.87,3.93,3.99,4.05,4.12,4.18,4.24,4.30,4.36,4.42];
const congCondErr=[.16,.16,.17,.17,.18,.18,.19,.20,.21,.21,
.22,.23,.24,.24,.25,.26,.27,.28,.28,.29,
.30,.31,.32,.33,.33,.34,.35,.36,.36,.37,
.38,.39,.40,.41,.42,.43,.43,.44,.45,.46,
.47,.48,.49,.50,.51,.52,.53,.54,.55,.56,
.57,.58,.59,.60,.61,.62,.63,.64,.65,.67,
.68,.69,.70,.71,.73,.74,.75,.76,.78,.79,
.80,.81,.83,.84,.85,.86,.87,.88,.90,.91,
.92,.93,.94,.95,.96,.97,.98,.99,1.00,1.01,
1.02,1.04,1.05,1.06,1.07,1.09,1.11,1.13,1.15,1.17,1.18];
const emphCondMean=[.53,.53,.54,.55,.56,.58,.60,.62,.64,.66,
.68,.70,.72,.74,.77,.79,.81,.84,.87,.90,
.93,.96,.98,1.01,1.04,1.06,1.09,1.12,1.15,1.19,
1.22,1.26,1.31,1.35,1.40,1.44,1.49,1.53,1.58,1.62,
1.66,1.70,1.74,1.79,1.84,1.88,1.93,1.97,2.02,2.07,
2.11,2.16,2.21,2.25,2.30,2.35,2.40,2.45,2.50,2.55,
2.60,2.65,2.70,2.75,2.79,2.84,2.88,2.93,2.98,3.03,
3.07,3.12,3.17,3.22,3.27,3.32,3.37,3.42,3.47,3.53,
3.58,3.64,3.69,3.73,3.78,3.83,3.89,3.94,3.99,4.05,
4.11,4.17,4.25,4.33,4.40,4.46,4.52,4.60,4.64,4.68,4.82];
const emphCondErr=[.08,.08,.08,.09,.09,.09,.09,.10,.10,.10,
.11,.11,.12,.12,.12,.13,.13,.14,.14,.14,
.15,.15,.16,.16,.17,.17,.18,.18,.19,.19,
.20,.20,.21,.21,.22,.22,.23,.23,.24,.24,
.25,.25,.26,.26,.27,.27,.28,.28,.29,.29,
.30,.30,.31,.31,.32,.32,.33,.33,.34,.34,
.35,.35,.36,.36,.37,.38,.38,.39,.39,.40,
.40,.41,.42,.42,.43,.43,.44,.45,.45,.46,
.46,.47,.48,.48,.49,.50,.50,.51,.52,.52,
.53,.54,.55,.56,.57,.58,.59,.60,.61,.62,.63];
const neoCondMean=[.92,.94,.97,1.00,1.02,1.05,1.08,1.10,1.13,1.16,
1.20,1.25,1.30,1.35,1.40,1.44,1.48,1.52,1.56,1.61,
1.66,1.72,1.78,1.84,1.90,1.96,2.03,2.10,2.17,2.24,
2.30,2.37,2.44,2.52,2.59,2.67,2.75,2.84,2.92,2.99,
3.06,3.13,3.21,3.29,3.37,3.46,3.55,3.64,3.73,3.82,
3.91,4.01,4.11,4.21,4.31,4.40,4.50,4.62,4.73,4.84,
4.95,5.06,5.18,5.30,5.42,5.54,5.66,5.78,5.90,6.00,
6.12,6.24,6.37,6.50,6.62,6.74,6.86,7.00,7.13,7.25,
7.35,7.48,7.60,7.72,7.85,8.00,8.12,8.20,8.34,8.46,
8.58,8.72,8.85,8.96,9.05,9.16,9.30,9.40,9.50,9.60,9.65];
const neoCondErr=[.12,.12,.13,.13,.14,.14,.15,.15,.16,.16,
.17,.17,.18,.19,.19,.20,.21,.22,.22,.23,
.24,.25,.26,.27,.28,.29,.30,.31,.32,.33,
.34,.35,.36,.37,.38,.39,.40,.41,.43,.44,
.45,.46,.47,.48,.50,.51,.52,.53,.55,.56,
.57,.58,.60,.61,.62,.64,.65,.66,.68,.69,
.71,.72,.74,.75,.77,.78,.80,.81,.83,.84,
.86,.87,.89,.90,.92,.93,.95,.97,.98,1.00,
1.01,1.03,1.04,1.06,1.07,1.09,1.10,1.11,1.13,1.14,
1.16,1.17,1.19,1.20,1.22,1.23,1.24,1.26,1.27,1.29,1.30];

const lobeColors=["#0000ff","#000000","#0072bd","#bd0b30","#ff8000"];
const tissueColors=["#00209a","#000000","#ff8000","#00c4c8","#5bae14","#bd0b30"];
const lobeSlugs=["right-upper-lobe","right-middle-lobe","right-lower-lobe","left-upper-lobe","left-lower-lobe"];
const tissueSlugs=["non-neoplastic","dense-fibrosis","inflamed-patchy-fibrosis","congested","emphysematous","neoplastic"];

const root=document.getElementById('figure');
const plots=document.getElementById('plots');
const NS=root.namespaceURI;
function mk(parent,tag,attrs,text){
  const e=document.createElementNS(NS,tag);
  for(const k in attrs)e.setAttribute(k,attrs[k]);
  if(text!==undefined)e.textContent=text;
  parent.appendChild(e);
  return e;
}
const GRID='#dedede',AX='#262626';

function drawChart(c){
  const g=mk(plots,'g',{});
  
  
  const xS=f=>c.left+(f-0.5)/8*(c.right-c.left);
  const yS=v=>c.bottom-v/c.yMax*(c.bottom-c.top);
  xTickLabels.forEach(t=>{
    const gl=mk(g,'line',{x1:xS(t),x2:xS(t),y1:c.top,y2:c.bottom,stroke:GRID,'stroke-width':2.5});
    
    
  });
  c.yTicks.forEach(t=>{
    const gl=mk(g,'line',{x1:c.left,x2:c.right,y1:yS(t),y2:yS(t),stroke:GRID,'stroke-width':2.5});
    
    
  });
  const xa=mk(g,'line',{x1:c.left-1,x2:c.right,y1:c.bottom,y2:c.bottom,stroke:AX,'stroke-width':2.6});
  
  
  const ya=mk(g,'line',{x1:c.left,x2:c.left,y1:c.top,y2:c.bottom,stroke:AX,'stroke-width':2.6});
  
  
  xTickLabels.forEach(t=>{
    const m=mk(g,'line',{x1:xS(t),x2:xS(t),y1:c.bottom,y2:c.bottom-15,stroke:AX,'stroke-width':2.6});
    
    
    const l=mk(g,'text',{x:xS(t)-3,y:c.bottom+76,'text-anchor':'middle','font-size':51,fill:AX},t);
    
    
  });
  c.yTicks.forEach(t=>{
    const m=mk(g,'line',{x1:c.left,x2:c.left+15,y1:yS(t),y2:yS(t),stroke:AX,'stroke-width':2.6});
    
    
    const l=mk(g,'text',{x:c.left-27,y:yS(t)+21,'text-anchor':'end','font-size':51,fill:AX},t);
    
    
  });
  const xl=mk(g,'text',{x:(c.left+c.right)/2,y:c.bottom+153,'text-anchor':'middle','font-size':57,fill:AX},'Frequency (GHz)');
  
  
  const yc=(c.top+c.bottom)/2,yx=c.left-c.yLabelGap;
  const yl=mk(g,'text',{x:yx,y:yc,'text-anchor':'middle','font-size':57,fill:AX,transform:'rotate(-90 '+yx+' '+yc+')'},c.yLabel);
  
  

  c.series.forEach((s,si)=>{
    const sg=mk(g,'g',{});
    
    
    const pts=s.mean.map((v,i)=>xS(frequencies[i]).toFixed(1)+','+yS(v).toFixed(1)).join(' ');
    const ln=mk(sg,'polyline',{points:pts,fill:'none',stroke:c.colors[si],'stroke-width':2});
    
    
    s.mean.forEach((v,i)=>{
      const x=xS(frequencies[i]),hi=yS(v+s.err[i]),lo=yS(v-s.err[i]);
      const d='M'+x.toFixed(1)+' '+hi.toFixed(1)+'V'+lo.toFixed(1)+'M'+(x-16.6).toFixed(1)+' '+hi.toFixed(1)+'H'+(x+16.6).toFixed(1)+'M'+(x-16.6).toFixed(1)+' '+lo.toFixed(1)+'H'+(x+16.6).toFixed(1);
      const eb=mk(sg,'path',{d:d,fill:'none',stroke:c.colors[si],'stroke-width':2.8});
      
      
    });
    s.mean.forEach((v,i)=>{
      const p=mk(sg,'circle',{cx:xS(frequencies[i]).toFixed(1),cy:yS(v).toFixed(1),r:9,fill:c.colors[si]});
      
      
    });
  });

  const lg=mk(g,'g',{});
  
  
  const L=c.legend;
  const box=mk(lg,'rect',{x:L.x,y:L.y,width:L.w,height:L.h,fill:'#fff',stroke:AX,'stroke-width':2.6});
  
  
  c.labels.forEach((t,i)=>{
    const ry=L.y+L.first+i*L.step,cx=L.x+L.cx;
    const e=mk(lg,'g',{});
    
    
    mk(e,'path',{d:'M'+(L.x+L.l1)+' '+ry+'H'+(L.x+L.l2)+'M'+cx+' '+(ry-23)+'V'+(ry+23)+'M'+(cx-16.5)+' '+(ry-23)+'H'+(cx+16.5)+'M'+(cx-16.5)+' '+(ry+23)+'H'+(cx+16.5),fill:'none',stroke:c.colors[i],'stroke-width':2.5});
    mk(e,'circle',{cx:cx,cy:ry,r:8.5,fill:c.colors[i]});
    mk(e,'text',{x:L.x+L.tx,y:ry+21,'font-size':46.5,fill:'#111'},t);
  });
}

function lobeLegend(x){return {x:x,y:81,w:556,h:318,first:36,step:61.5,l1:12,l2:168,cx:91,tx:180};}
function tissueLegend(x){return {x:x,y:2488,w:732,h:382,first:37,step:61.6,l1:13,l2:168,cx:91,tx:180};}

drawChart({name:'permittivity-chart-lobes',left:240,right:1898.5,top:39,bottom:1815,yMax:100,yTicks:permittivityTicks,yLabel:'Relative Permittivity',yLabelGap:138,
  colors:lobeColors,slugs:lobeSlugs,labels:lobeLabels,legend:lobeLegend(1300),
  series:[{mean:rulPermMean,err:rulPermErr},{mean:rmlPermMean,err:rmlPermErr},{mean:rllPermMean,err:rllPermErr},{mean:lulPermMean,err:lulPermErr},{mean:lllPermMean,err:lllPermErr}]});
drawChart({name:'conductivity-chart-lobes',left:2425,right:4085.8,top:39,bottom:1815,yMax:14,yTicks:conductivityTicks,yLabel:'Conductivity (S/m)',yLabelGap:109,
  colors:lobeColors,slugs:lobeSlugs,labels:lobeLabels,legend:lobeLegend(3485),
  series:[{mean:rulCondMean,err:rulCondErr},{mean:rmlCondMean,err:rmlCondErr},{mean:rllCondMean,err:rllCondErr},{mean:lulCondMean,err:lulCondErr},{mean:lllCondMean,err:lllCondErr}]});
drawChart({name:'permittivity-chart-tissue',left:205,right:1864.5,top:2446,bottom:4228,yMax:100,yTicks:permittivityTicks,yLabel:'Relative Permittivity',yLabelGap:139,
  colors:tissueColors,slugs:tissueSlugs,labels:tissueLabels,legend:tissueLegend(1093),
  series:[{mean:nonPermMean,err:nonPermErr},{mean:densePermMean,err:densePermErr},{mean:inflPermMean,err:inflPermErr},{mean:congPermMean,err:congPermErr},{mean:emphPermMean,err:emphPermErr},{mean:neoPermMean,err:neoPermErr}]});
drawChart({name:'conductivity-chart-tissue',left:2393.5,right:4054.3,top:2446,bottom:4228,yMax:14,yTicks:conductivityTicks,yLabel:'Conductivity (S/m)',yLabelGap:109,
  colors:tissueColors,slugs:tissueSlugs,labels:tissueLabels,legend:tissueLegend(3282),
  series:[{mean:nonCondMean,err:nonCondErr},{mean:denseCondMean,err:denseCondErr},{mean:inflCondMean,err:inflCondErr},{mean:congCondMean,err:congCondErr},{mean:emphCondMean,err:emphCondErr},{mean:neoCondMean,err:neoCondErr}]});
</script>
</body>
</html>
